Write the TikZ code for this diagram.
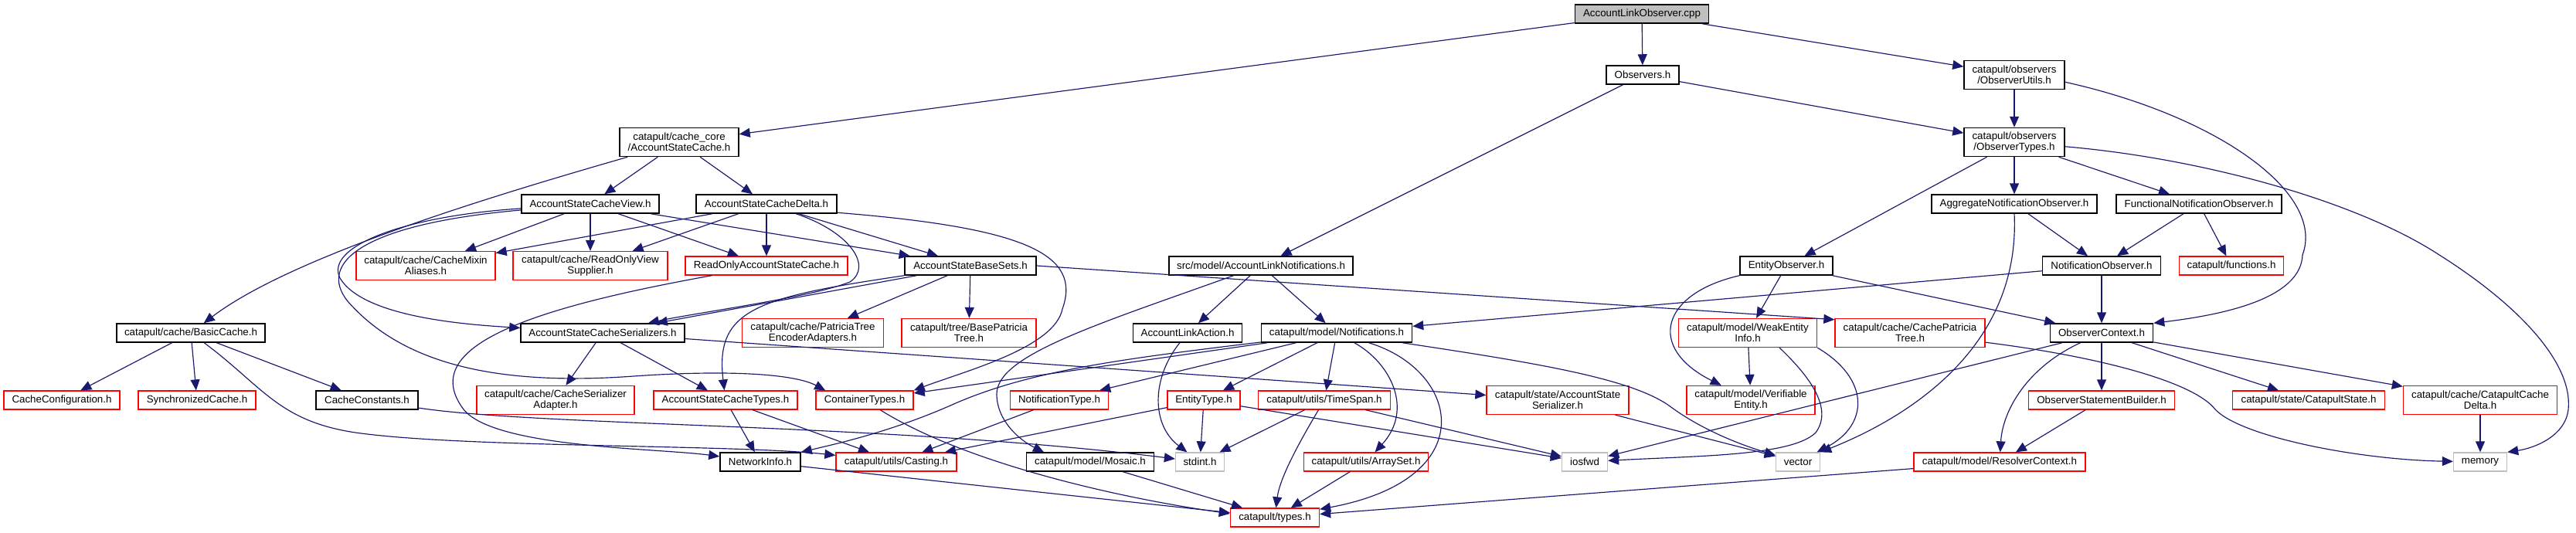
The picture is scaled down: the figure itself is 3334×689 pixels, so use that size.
\documentclass[tikz,border=0pt]{standalone}
\usepackage{fontspec}
\setmainfont{Liberation Sans}
\usetikzlibrary{arrows.meta}
\definecolor{mblue}{HTML}{191970}
\definecolor{lgray}{HTML}{BFBFBF}
\begin{document}
\begin{tikzpicture}[x=0.3pt,y=-0.3pt,font=\fontsize{4}{4.2}\selectfont,
  nb/.style={draw, rectangle, inner sep=0pt, align=center, minimum height=7.2pt},
  w/.style={minimum width=#1*0.3pt},
  two/.style={minimum height=11.1pt},
  blk/.style={nb, draw=black, line width=0.45pt},
  trunc/.style={nb, draw=red, line width=0.4pt},
  ext/.style={nb, draw=lgray, line width=0.4pt},
  rootbox/.style={blk, fill=lgray},
  edg/.style={draw=mblue, line width=0.35pt, -{Triangle[length=4.2pt,width=3.6pt]}}]
\useasboundingbox (0,0) rectangle (3334,689);
% row A-C
\node[rootbox, w=173] (root) at (2125,18) {AccountLinkObserver.cpp};
\node[blk, w=94] (obs) at (2126,97) {Observers.h};
\node[blk, w=130, two] (utils) at (2607,97) {catapult/observers\\/ObserverUtils.h};
\node[blk, w=154, two] (acache) at (879,184) {catapult/cache\_core\\/AccountStateCache.h};
\node[blk, w=130, two] (otypes) at (2607,184) {catapult/observers\\/ObserverTypes.h};
% row D
\node[blk, w=178] (view) at (764,264) {AccountStateCacheView.h};
\node[blk, w=182] (delta) at (992,264) {AccountStateCacheDelta.h};
\node[blk, w=214] (aggr) at (2607,264) {AggregateNotificationObserver.h};
\node[blk, w=214] (func) at (2846,264) {FunctionalNotificationObserver.h};
% row E
\node[trunc, w=180, two] (mixin) at (551,344) {catapult/cache/CacheMixin\\Aliases.h};
\node[trunc, w=200, two] (rovs) at (764,344) {catapult/cache/ReadOnlyView\\Supplier.h};
\node[trunc, w=210] (roasc) at (992,344) {ReadOnlyAccountStateCache.h};
\node[blk, w=170] (bsets) at (1256,344) {AccountStateBaseSets.h};
\node[blk, w=238] (aln) at (1632,344) {src/model/AccountLinkNotifications.h};
\node[blk, w=120] (eobs) at (2312,344) {EntityObserver.h};
\node[blk, w=153] (nobs) at (2720,344) {NotificationObserver.h};
\node[trunc, w=135] (fun) at (2888,344) {catapult/functions.h};
% row F
\node[blk, w=192] (basic) at (247,431) {catapult/cache/BasicCache.h};
\node[blk, w=212] (ser) at (780,431) {AccountStateCacheSerializers.h};
\node[trunc, w=183, two] (pte) at (1052,431) {catapult/cache/PatriciaTree\\EncoderAdapters.h};
\node[trunc, w=174, two] (bpt) at (1254,431) {catapult/tree/BasePatricia\\Tree.h};
\node[blk, w=141] (ala) at (1537,431) {AccountLinkAction.h};
\node[blk, w=195] (notif) at (1730,431) {catapult/model/Notifications.h};
\node[trunc, w=179, two] (wei) at (2262,431) {catapult/model/WeakEntity\\Info.h};
\node[trunc, w=194, two] (cpt) at (2472,431) {catapult/cache/CachePatricia\\Tree.h};
\node[blk, w=133] (octx) at (2720,431) {ObserverContext.h};
% row G
\node[trunc, w=150] (cconf) at (80,518) {CacheConfiguration.h};
\node[trunc, w=152] (sync) at (255,518) {SynchronizedCache.h};
\node[blk, w=132] (cconst) at (475,518) {CacheConstants.h};
\node[trunc, w=204, two] (csa) at (719,518) {catapult/cache/CacheSerializer\\Adapter.h};
\node[trunc, w=186] (act) at (939,518) {AccountStateCacheTypes.h};
\node[trunc, w=126] (ctypes) at (1119,518) {ContainerTypes.h};
\node[trunc, w=127] (ntype) at (1371,518) {NotificationType.h};
\node[trunc, w=94] (etype) at (1558,518) {EntityType.h};
\node[trunc, w=171] (tspan) at (1714,518) {catapult/utils/TimeSpan.h};
\node[trunc, w=184, two] (ass) at (2016,518) {catapult/state/AccountState\\Serializer.h};
\node[trunc, w=166, two] (ve) at (2266,518) {catapult/model/Verifiable\\Entity.h};
\node[trunc, w=189] (osb) at (2720,518) {ObserverStatementBuilder.h};
\node[trunc, w=197] (cst) at (2988,518) {catapult/state/CatapultState.h};
\node[trunc, w=199, two] (ccd) at (3210,518) {catapult/cache/CatapultCache\\Delta.h};
% row H
\node[blk, w=104] (ninfo) at (984,598) {NetworkInfo.h};
\node[trunc, w=156] (cast) at (1160,598) {catapult/utils/Casting.h};
\node[blk, w=165] (mosaic) at (1411,598) {catapult/model/Mosaic.h};
\node[ext, w=63] (stdint) at (1553,598) {stdint.h};
\node[trunc, w=161] (aset) at (1768,598) {catapult/utils/ArraySet.h};
\node[ext, w=59] (iosfwd) at (2051,598) {iosfwd};
\node[ext, w=57] (vector) at (2327,598) {vector};
\node[trunc, w=222] (rctx) at (2588,598) {catapult/model/ResolverContext.h};
\node[ext, w=69] (memory) at (3210,598) {memory};
% row I
\node[trunc, w=115] (types) at (1650,670) {catapult/types.h};

% edges
\draw[edg] (root) -- (acache);
\draw[edg] (root) -- (obs);
\draw[edg] (root) -- (utils);
\draw[edg] (obs) -- (otypes);
\draw[edg] (obs) -- (aln);
\draw[edg] (utils) -- (otypes);
\draw[edg] (utils.-8) .. controls (2870,150) and (3010,250) .. (2980,330) .. controls (2978,380) and (2900,405) .. (octx.north east);
\draw[edg] (otypes) -- (eobs);
\draw[edg] (otypes) -- (aggr);
\draw[edg] (otypes) -- (func);
\draw[edg] (otypes.-5) .. controls (2850,205) and (3050,260) .. (3157,330) .. controls (3260,395) and (3330,470) .. (3324,530) .. controls (3320,565) and (3280,580) .. (memory.north east);
\draw[edg] (aggr) -- (nobs);
\draw[edg] (aggr.south) .. controls (2615,450) and (2470,540) .. (vector.north east);
\draw[edg] (func) -- (nobs);
\draw[edg] (func) -- (fun);
\draw[edg] (nobs) -- (octx);
\draw[edg] (nobs) -- (notif);
\draw[edg] (eobs) -- (wei);
\draw[edg] (eobs.south west) .. controls (2150,380) and (2130,450) .. (ve);
\draw[edg] (eobs) -- (octx);
\draw[edg] (octx) -- (osb);
\draw[edg] (octx) -- (cst);
\draw[edg] (octx) -- (ccd);
\draw[edg] (octx) .. controls (2625,475) and (2592,530) .. (rctx);
\draw[edg] (octx) -- (iosfwd);
\draw[edg] (osb) -- (rctx);
\draw[edg] (ccd) -- (memory);
\draw[edg] (cpt) .. controls (2720,462) and (2840,495) .. (2867,530) .. controls (2900,565) and (3050,595) .. (memory);
\draw[edg] (rctx) -- (types);
\draw[edg] (wei) -- (ve);
\draw[edg] (wei.-25) .. controls (2345,490) and (2372,530) .. (2350,560) .. controls (2320,590) and (2200,590) .. (iosfwd);
\draw[edg] (wei.-12) .. controls (2420,490) and (2420,550) .. (vector);
\draw[edg] (ass) -- (vector);
\draw[edg] (aln) -- (ala);
\draw[edg] (aln) -- (notif);
\draw[edg] (aln) .. controls (1420,420) and (1290,460) .. (1290,510) .. controls (1290,545) and (1320,570) .. (mosaic.168);
\draw[edg] (ala) .. controls (1490,490) and (1490,550) .. (stdint);
\draw[edg] (notif) -- (ctypes);
\draw[edg] (notif) -- (ntype);
\draw[edg] (notif) -- (etype);
\draw[edg] (notif) -- (tspan);
\draw[edg] (notif) .. controls (1800,470) and (1830,530) .. (aset);
\draw[edg] (notif) .. controls (1890,480) and (1920,620) .. (types);
\draw[edg] (notif) .. controls (1990,470) and (2110,490) .. (2160,525) .. controls (2200,555) and (2250,575) .. (vector);
\draw[edg] (notif) .. controls (1450,465) and (1330,480) .. (1230,525) .. controls (1150,560) and (1080,575) .. (ninfo);
\draw[edg] (tspan) -- (stdint);
\draw[edg] (tspan) .. controls (1680,575) and (1656,620) .. (types);
\draw[edg] (tspan) -- (iosfwd);
\draw[edg] (etype) -- (cast);
\draw[edg] (etype) -- (stdint);
\draw[edg] (etype) -- (iosfwd);
\draw[edg] (aset) -- (types);
\draw[edg] (ntype) -- (cast);
\draw[edg] (ctypes) .. controls (1250,600) and (1450,645) .. (types.175);
\draw[edg] (mosaic) -- (types);
\draw[edg] (ninfo) -- (types);
\draw[edg] (act) -- (ninfo);
\draw[edg] (act) -- (cast);
\draw[edg] (acache) -- (view);
\draw[edg] (acache) -- (delta);
\draw[edg] (acache) .. controls (650,250) and (380,330) .. (basic);
\draw[edg] (view) -- (mixin);
\draw[edg] (view) -- (rovs);
\draw[edg] (view) -- (roasc);
\draw[edg] (view) -- (bsets);
\draw[edg] (view) .. controls (520,280) and (420,320) .. (440,360) .. controls (470,410) and (600,420) .. (ser);
\draw[edg] (view) .. controls (470,290) and (410,340) .. (450,390) .. controls (520,470) and (640,500) .. (820,487) .. controls (950,478) and (1030,485) .. (ctypes.166);
\draw[edg] (delta) -- (mixin);
\draw[edg] (delta) -- (rovs);
\draw[edg] (delta) -- (roasc);
\draw[edg] (delta) -- (bsets);
\draw[edg] (delta) .. controls (1100,300) and (1130,345) .. (1100,365) .. controls (1050,385) and (900,405) .. (ser);
\draw[edg] (delta.-7) .. controls (1330,295) and (1400,330) .. (1375,400) .. controls (1365,450) and (1250,480) .. (ctypes.north east);
\draw[edg] (bsets) -- (ser);
\draw[edg] (bsets) .. controls (980,385) and (925,400) .. (act);
\draw[edg] (bsets) -- (pte);
\draw[edg] (bsets) -- (bpt);
\draw[edg] (bsets.east) -- (cpt.170);
\draw[edg] (ser) -- (csa);
\draw[edg] (ser) -- (act);
\draw[edg] (ser) -- (ass);
\draw[edg] (basic) -- (cconf);
\draw[edg] (basic) -- (sync);
\draw[edg] (basic) -- (cconst);
\draw[edg] (basic) .. controls (340,500) and (360,545) .. (460,560) .. controls (600,580) and (950,575) .. (cast);
\draw[edg] (cconst) .. controls (700,552) and (1150,548) .. (stdint);
\draw[edg] (roasc) .. controls (680,400) and (540,450) .. (600,530) .. controls (640,580) and (850,580) .. (ninfo);
\end{tikzpicture}
\end{document}
